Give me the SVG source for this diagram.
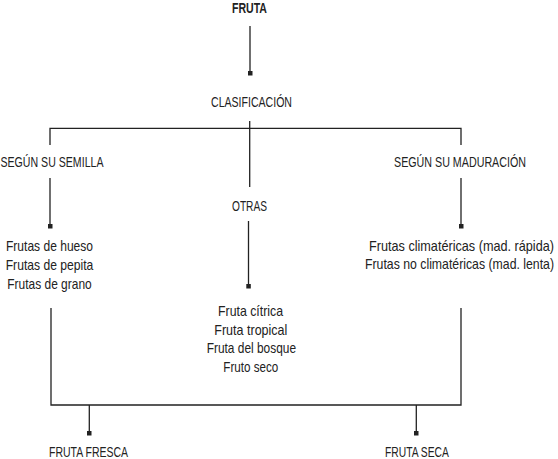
<svg xmlns="http://www.w3.org/2000/svg" width="558" height="459" viewBox="0 0 558 459">
<defs>
<style>
.t{font-family:"Liberation Sans",Arial,sans-serif;font-size:14px;fill:#222;}
.b{font-weight:bold;font-size:15px;}
.l{stroke:#222;stroke-width:1.3;fill:none;}
.m{fill:#222;}
</style>
</defs>
<rect width="558" height="459" fill="#fff"/>
<g id="connectors">
<path class="l" d="M250,26V73"/>
<rect class="m" x="248" y="71" width="4.5" height="4.5"/>
<path class="l" d="M249.7,121V187"/>
<path class="l" d="M50,145V128.3H461V145"/>
<path class="l" d="M50,178V226"/>
<rect class="m" x="48" y="224" width="4.5" height="4.5"/>
<path class="l" d="M461,178V226"/>
<rect class="m" x="459" y="224" width="4.5" height="4.5"/>
<path class="l" d="M248.5,221V286"/>
<rect class="m" x="246.3" y="284" width="4.5" height="4.5"/>
<path class="l" d="M51,308V405H461V308"/>
<path class="l" d="M89.3,405V433"/>
<rect class="m" x="87" y="431" width="4.5" height="4.5"/>
<path class="l" d="M416.3,405V433"/>
<rect class="m" x="414" y="431" width="4.5" height="4.5"/>
</g>
<g id="fruta"><text class="t b" transform="translate(232,12.5) scale(0.69,1)" textLength="50.7" lengthAdjust="spacingAndGlyphs">FRUTA</text></g>
<g id="clasificacion"><text class="t" transform="translate(211,107) scale(0.754,1)" textLength="107.4" lengthAdjust="spacingAndGlyphs">CLASIFICACIÓN</text></g>
<g id="semilla"><text class="t" transform="translate(0.5,167) scale(0.756,1)" textLength="136.2" lengthAdjust="spacingAndGlyphs">SEGÚN SU SEMILLA</text></g>
<g id="maduracion"><text class="t" transform="translate(394,167) scale(0.764,1)" textLength="172.8" lengthAdjust="spacingAndGlyphs">SEGÚN SU MADURACIÓN</text></g>
<g id="otras"><text class="t" transform="translate(232,210.5) scale(0.726,1)" textLength="48.2" lengthAdjust="spacingAndGlyphs">OTRAS</text></g>
<g id="semilla-list">
<text class="t" transform="translate(6,251) scale(0.86,1)" textLength="101.2" lengthAdjust="spacingAndGlyphs">Frutas de hueso</text>
<text class="t" transform="translate(5.7,270) scale(0.866,1)" textLength="101.2" lengthAdjust="spacingAndGlyphs">Frutas de pepita</text>
<text class="t" transform="translate(7.3,289.3) scale(0.854,1)" textLength="98.8" lengthAdjust="spacingAndGlyphs">Frutas de grano</text>
</g>
<g id="maduracion-list">
<text class="t" transform="translate(369,250.6) scale(0.904,1)" textLength="204.6" lengthAdjust="spacingAndGlyphs">Frutas climatéricas (mad. rápida)</text>
<text class="t" transform="translate(365,269.4) scale(0.877,1)" textLength="215.5" lengthAdjust="spacingAndGlyphs">Frutas no climatéricas (mad. lenta)</text>
</g>
<g id="otras-list">
<text class="t" transform="translate(218,316) scale(0.88,1)" textLength="73.9" lengthAdjust="spacingAndGlyphs">Fruta cítrica</text>
<text class="t" transform="translate(214.3,335) scale(0.894,1)" textLength="81.7" lengthAdjust="spacingAndGlyphs">Fruta tropical</text>
<text class="t" transform="translate(206.7,353.3) scale(0.846,1)" textLength="105.6" lengthAdjust="spacingAndGlyphs">Fruta del bosque</text>
<text class="t" transform="translate(223.3,371.7) scale(0.832,1)" textLength="66.1" lengthAdjust="spacingAndGlyphs">Fruto seco</text>
</g>
<g id="fresca"><text class="t" transform="translate(49,457) scale(0.667,1)" textLength="118.5" lengthAdjust="spacingAndGlyphs">FRUTA FRESCA</text></g>
<g id="seca"><text class="t" transform="translate(385,457) scale(0.72,1)" textLength="88.7" lengthAdjust="spacingAndGlyphs">FRUTA SECA</text></g>
</svg>
